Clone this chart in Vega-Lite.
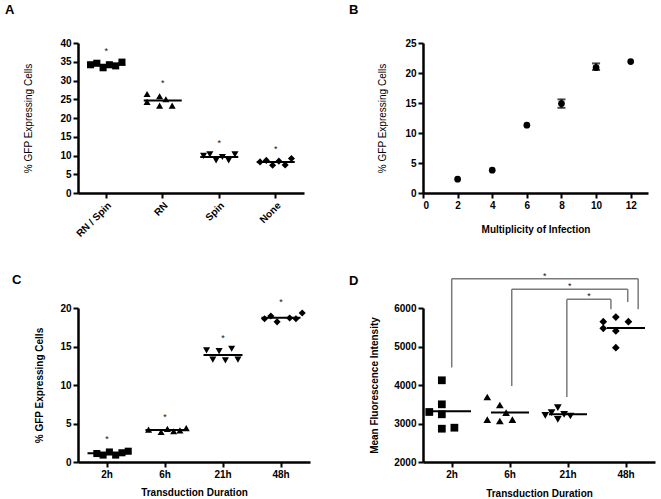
{
  "$schema": "https://vega.github.io/schema/vega-lite/v6.json",
  "background": "white",
  "padding": {"left": 5, "top": 3, "right": 5, "bottom": 5},
  "columns": 2,
  "bounds": "flush",
  "align": "each",
  "spacing": {"column": 113, "row": 115},
  "datasets": {
    "a": [
      {"g": "RN / Spin", "i": 2, "v": 34.2}, {"g": "RN / Spin", "i": 3, "v": 34.6}, {"g": "RN / Spin", "i": 4, "v": 33.4},
      {"g": "RN / Spin", "i": 5, "v": 34.2}, {"g": "RN / Spin", "i": 6, "v": 33.9}, {"g": "RN / Spin", "i": 7, "v": 34.9},
      {"g": "RN", "i": 2, "v": 26.4}, {"g": "RN", "i": 2, "v": 24.3}, {"g": "RN", "i": 4, "v": 25.8},
      {"g": "RN", "i": 4, "v": 23.3}, {"g": "RN", "i": 5, "v": 25.0}, {"g": "RN", "i": 6, "v": 23.3},
      {"g": "Spin", "i": 2, "v": 9.9}, {"g": "Spin", "i": 3, "v": 10.3}, {"g": "Spin", "i": 4, "v": 8.7},
      {"g": "Spin", "i": 5, "v": 9.6}, {"g": "Spin", "i": 6, "v": 8.7}, {"g": "Spin", "i": 7, "v": 10.3},
      {"g": "None", "i": 2, "v": 8.3}, {"g": "None", "i": 3, "v": 8.7}, {"g": "None", "i": 4, "v": 7.4},
      {"g": "None", "i": 5, "v": 8.5}, {"g": "None", "i": 6, "v": 7.5}, {"g": "None", "i": 7, "v": 9.2}
    ],
    "aStar": [
      {"g": "RN / Spin", "v": 38.3}, {"g": "RN", "v": 29.9}, {"g": "Spin", "v": 13.9}, {"g": "None", "v": 12.3}
    ],
    "b": [
      {"m": 2, "v": 2.3}, {"m": 4, "v": 3.8}, {"m": 6, "v": 11.3}, {"m": 8, "v": 14.9}, {"m": 10, "v": 20.9}, {"m": 12, "v": 21.9}
    ],
    "bErr": [
      {"m": 8, "lo": 14.2, "hi": 15.6}, {"m": 10, "lo": 20.5, "hi": 21.6}
    ],
    "c": [
      {"g": "2h", "i": 3, "v": 1.1}, {"g": "2h", "i": 4, "v": 0.9}, {"g": "2h", "i": 5, "v": 1.3},
      {"g": "2h", "i": 6, "v": 0.9}, {"g": "2h", "i": 7, "v": 1.2}, {"g": "2h", "i": 8, "v": 1.4},
      {"g": "6h", "i": 2, "v": 4.2}, {"g": "6h", "i": 4, "v": 3.9}, {"g": "6h", "i": 5, "v": 4.3},
      {"g": "6h", "i": 6, "v": 4.0}, {"g": "6h", "i": 7, "v": 4.1}, {"g": "6h", "i": 8, "v": 4.4},
      {"g": "21h", "i": 2, "v": 14.5}, {"g": "21h", "i": 3, "v": 13.3}, {"g": "21h", "i": 4, "v": 14.4},
      {"g": "21h", "i": 5, "v": 13.2}, {"g": "21h", "i": 6, "v": 14.7}, {"g": "21h", "i": 7, "v": 13.3},
      {"g": "48h", "i": 2, "v": 18.6}, {"g": "48h", "i": 3, "v": 18.95}, {"g": "48h", "i": 4, "v": 18.2},
      {"g": "48h", "i": 6, "v": 18.7}, {"g": "48h", "i": 7, "v": 18.6}, {"g": "48h", "i": 8, "v": 19.35}
    ],
    "cStar": [
      {"g": "2h", "v": 3.2}, {"g": "6h", "v": 6.1}, {"g": "21h", "v": 16.4}, {"g": "48h", "v": 21.0}
    ],
    "d": [
      {"g": "2h", "i": 3, "v": 4122}, {"g": "2h", "i": 3, "v": 3498}, {"g": "2h", "i": 1, "v": 3299},
      {"g": "2h", "i": 3, "v": 3239}, {"g": "2h", "i": 3, "v": 2865}, {"g": "2h", "i": 5, "v": 2891},
      {"g": "6h", "i": 1, "v": 3688}, {"g": "6h", "i": 3, "v": 3481}, {"g": "6h", "i": 4, "v": 3281},
      {"g": "6h", "i": 1, "v": 3099}, {"g": "6h", "i": 3, "v": 3065}, {"g": "6h", "i": 5, "v": 3099},
      {"g": "21h", "i": 3, "v": 3410}, {"g": "21h", "i": 2, "v": 3281}, {"g": "21h", "i": 1, "v": 3213},
      {"g": "21h", "i": 3, "v": 3109}, {"g": "21h", "i": 4, "v": 3239}, {"g": "21h", "i": 5, "v": 3195},
      {"g": "48h", "i": 1, "v": 5644}, {"g": "48h", "i": 3, "v": 5766}, {"g": "48h", "i": 5, "v": 5644},
      {"g": "48h", "i": 1, "v": 5472}, {"g": "48h", "i": 3, "v": 5403}, {"g": "48h", "i": 3, "v": 4970}
    ],
    "br": [
      {"xl": 0.495, "xr": 3.71, "xm": 2.10, "top": 6761, "yl": 4455, "yr": 5966},
      {"xl": 1.53, "xr": 3.53, "xm": 2.53, "top": 6486, "yl": 3974, "yr": 6156},
      {"xl": 2.48, "xr": 3.24, "xm": 2.86, "top": 6226, "yl": 3688, "yr": 5966}
    ]
  },
  "concat": [
    {
      "width": 226, "height": 150,
      "title": {"text": "A", "dx": -73, "offset": 21.5},
      "layer": [
        {
          "data": {"name": "a"},
          "mark": {"type": "point", "filled": true, "opacity": 1, "color": "black", "size": 50, "strokeWidth": 0},
          "encoding": {
            "x": {"field": "g", "type": "nominal", "sort": ["RN / Spin", "RN", "Spin", "None"],
                  "scale": {"type": "band", "paddingInner": 0, "paddingOuter": 0},
                  "axis": {"title": null, "labelAngle": -45, "labelAlign": "right", "labelBaseline": "top"}},
            "xOffset": {"field": "i", "type": "ordinal", "scale": {"type": "point", "domain": [1, 2, 3, 4, 5, 6, 7], "padding": 4}},
            "y": {"field": "v", "type": "quantitative", "scale": {"domain": [0, 40], "nice": false},
                  "axis": {"values": [0, 5, 10, 15, 20, 25, 30, 35, 40], "title": "% GFP Expressing Cells", "titleFontWeight": "normal", "titlePadding": 26}},
            "shape": {"field": "g", "type": "nominal",
                      "scale": {"domain": ["RN / Spin", "RN", "Spin", "None", "2h", "6h", "21h", "48h"],
                                "range": ["square", "triangle-up", "triangle-down", "diamond", "square", "triangle-up", "triangle-down", "diamond"]},
                      "legend": null}
          }
        },
        {
          "data": {"name": "a"},
          "mark": {"type": "tick", "orient": "horizontal", "color": "black", "size": 38, "thickness": 2},
          "encoding": {
            "x": {"field": "g", "type": "nominal", "sort": ["RN / Spin", "RN", "Spin", "None"], "bandPosition": 0.5,
                  "axis": {"title": null, "labelAngle": -45, "labelAlign": "right", "labelBaseline": "top"}},
            "y": {"aggregate": "mean", "field": "v", "type": "quantitative",
                  "axis": {"values": [0, 5, 10, 15, 20, 25, 30, 35, 40], "title": "% GFP Expressing Cells", "titleFontWeight": "normal", "titlePadding": 26}}
          }
        },
        {
          "data": {"name": "aStar"},
          "mark": {"type": "text", "text": "*", "fontSize": 9, "baseline": "alphabetic", "dy": 5, "color": "#111111"},
          "encoding": {
            "x": {"field": "g", "type": "nominal", "sort": ["RN / Spin", "RN", "Spin", "None"], "bandPosition": 0.5,
                  "axis": {"title": null, "labelAngle": -45, "labelAlign": "right", "labelBaseline": "top"}},
            "y": {"field": "v", "type": "quantitative",
                  "axis": {"values": [0, 5, 10, 15, 20, 25, 30, 35, 40], "title": "% GFP Expressing Cells", "titleFontWeight": "normal", "titlePadding": 26}}
          }
        }
      ]
    },
    {
      "width": 225, "height": 150,
      "title": {"text": "B", "dx": -74, "offset": 21.5},
      "layer": [
        {
          "data": {"name": "b"},
          "mark": {"type": "point", "filled": true, "opacity": 1, "color": "black", "size": 45, "shape": "circle", "strokeWidth": 0},
          "encoding": {
            "x": {"field": "m", "type": "quantitative", "scale": {"domain": [0, 13], "nice": false},
                  "axis": {"values": [0, 2, 4, 6, 8, 10, 12], "title": "Multiplicity of Infection", "titleFontWeight": "bold", "titlePadding": 14}},
            "y": {"field": "v", "type": "quantitative", "scale": {"domain": [0, 25], "nice": false},
                  "axis": {"values": [0, 5, 10, 15, 20, 25], "title": "% GFP Expressing Cells", "titleFontWeight": "normal", "titlePadding": 17}}
          }
        },
        {
          "data": {"name": "bErr"},
          "mark": {"type": "rule", "color": "black", "strokeWidth": 2},
          "encoding": {
            "x": {"field": "m", "type": "quantitative",
                  "axis": {"values": [0, 2, 4, 6, 8, 10, 12], "title": "Multiplicity of Infection", "titleFontWeight": "bold", "titlePadding": 14}},
            "y": {"field": "lo", "type": "quantitative",
                  "axis": {"values": [0, 5, 10, 15, 20, 25], "title": "% GFP Expressing Cells", "titleFontWeight": "normal", "titlePadding": 17}},
            "y2": {"field": "hi"}
          }
        },
        {
          "data": {"name": "bErr"},
          "mark": {"type": "tick", "orient": "horizontal", "color": "black", "size": 8, "thickness": 2},
          "encoding": {
            "x": {"field": "m", "type": "quantitative",
                  "axis": {"values": [0, 2, 4, 6, 8, 10, 12], "title": "Multiplicity of Infection", "titleFontWeight": "bold", "titlePadding": 14}},
            "y": {"field": "lo", "type": "quantitative",
                  "axis": {"values": [0, 5, 10, 15, 20, 25], "title": "% GFP Expressing Cells", "titleFontWeight": "normal", "titlePadding": 17}}
          }
        },
        {
          "data": {"name": "bErr"},
          "mark": {"type": "tick", "orient": "horizontal", "color": "black", "size": 8, "thickness": 2},
          "encoding": {
            "x": {"field": "m", "type": "quantitative",
                  "axis": {"values": [0, 2, 4, 6, 8, 10, 12], "title": "Multiplicity of Infection", "titleFontWeight": "bold", "titlePadding": 14}},
            "y": {"field": "hi", "type": "quantitative",
                  "axis": {"values": [0, 5, 10, 15, 20, 25], "title": "% GFP Expressing Cells", "titleFontWeight": "normal", "titlePadding": 17}}
          }
        }
      ]
    },
    {
      "width": 232, "height": 154,
      "title": {"text": "C", "dx": -66, "offset": 19, "dy": 8},
      "layer": [
        {
          "data": {"name": "c"},
          "mark": {"type": "point", "filled": true, "opacity": 1, "color": "black", "size": 50, "strokeWidth": 0},
          "encoding": {
            "x": {"field": "g", "type": "nominal", "sort": ["2h", "6h", "21h", "48h"],
                  "scale": {"type": "band", "paddingInner": 0, "paddingOuter": 0},
                  "axis": {"title": "Transduction Duration", "labelAngle": 0, "titleFontWeight": "bold", "titlePadding": 8}},
            "xOffset": {"field": "i", "type": "ordinal", "scale": {"type": "point", "domain": [1, 2, 3, 4, 5, 6, 7, 8], "padding": 2.3}},
            "y": {"field": "v", "type": "quantitative", "scale": {"domain": [0, 20], "nice": false},
                  "axis": {"values": [0, 5, 10, 15, 20], "title": "% GFP Expressing Cells", "titleFontWeight": "bold", "titlePadding": 15}},
            "shape": {"field": "g", "type": "nominal",
                      "scale": {"domain": ["RN / Spin", "RN", "Spin", "None", "2h", "6h", "21h", "48h"],
                                "range": ["square", "triangle-up", "triangle-down", "diamond", "square", "triangle-up", "triangle-down", "diamond"]},
                      "legend": null}
          }
        },
        {
          "data": {"name": "c"},
          "mark": {"type": "tick", "orient": "horizontal", "color": "black", "size": 39, "thickness": 2},
          "encoding": {
            "x": {"field": "g", "type": "nominal", "sort": ["2h", "6h", "21h", "48h"], "bandPosition": 0.5,
                  "axis": {"title": "Transduction Duration", "labelAngle": 0, "titleFontWeight": "bold", "titlePadding": 8}},
            "y": {"aggregate": "mean", "field": "v", "type": "quantitative",
                  "axis": {"values": [0, 5, 10, 15, 20], "title": "% GFP Expressing Cells", "titleFontWeight": "bold", "titlePadding": 15}}
          }
        },
        {
          "data": {"name": "cStar"},
          "mark": {"type": "text", "text": "*", "fontSize": 9, "baseline": "alphabetic", "dy": 5, "color": "#111111"},
          "encoding": {
            "x": {"field": "g", "type": "nominal", "sort": ["2h", "6h", "21h", "48h"], "bandPosition": 0.5,
                  "axis": {"title": "Transduction Duration", "labelAngle": 0, "titleFontWeight": "bold", "titlePadding": 8}},
            "y": {"field": "v", "type": "quantitative",
                  "axis": {"values": [0, 5, 10, 15, 20], "title": "% GFP Expressing Cells", "titleFontWeight": "bold", "titlePadding": 15}}
          }
        }
      ]
    },
    {
      "width": 232, "height": 154,
      "title": {"text": "D", "dx": -74, "offset": 19, "dy": 35},
      "resolve": {"scale": {"x": "independent"}, "axis": {"x": "independent"}},
      "layer": [
        {
          "layer": [
            {
              "data": {"name": "d"},
              "mark": {"type": "point", "filled": true, "opacity": 1, "color": "black", "size": 60, "strokeWidth": 0},
              "encoding": {
                "x": {"field": "g", "type": "nominal", "sort": ["2h", "6h", "21h", "48h"],
                      "scale": {"type": "band", "paddingInner": 0, "paddingOuter": 0},
                      "axis": {"title": "Transduction Duration", "labelAngle": 0, "titleFontWeight": "bold", "titlePadding": 9}},
                "xOffset": {"field": "i", "type": "ordinal", "scale": {"type": "point", "domain": [1, 2, 3, 4, 5], "padding": 4.1}},
                "y": {"field": "v", "type": "quantitative", "scale": {"domain": [2000, 6000], "nice": false, "zero": false},
                      "axis": {"values": [2000, 3000, 4000, 5000, 6000], "format": "d", "title": "Mean Fluorescence Intensity", "titleFontWeight": "bold", "titlePadding": 14}},
                "shape": {"field": "g", "type": "nominal",
                          "scale": {"domain": ["RN / Spin", "RN", "Spin", "None", "2h", "6h", "21h", "48h"],
                                    "range": ["square", "triangle-up", "triangle-down", "diamond", "square", "triangle-up", "triangle-down", "diamond"]},
                          "legend": null}
              }
            },
            {
              "data": {"name": "d"},
              "mark": {"type": "tick", "orient": "horizontal", "color": "black", "size": 38, "thickness": 2},
              "encoding": {
                "x": {"field": "g", "type": "nominal", "sort": ["2h", "6h", "21h", "48h"], "bandPosition": 0.5,
                      "axis": {"title": "Transduction Duration", "labelAngle": 0, "titleFontWeight": "bold", "titlePadding": 9}},
                "y": {"aggregate": "mean", "field": "v", "type": "quantitative",
                      "axis": {"values": [2000, 3000, 4000, 5000, 6000], "format": "d", "title": "Mean Fluorescence Intensity", "titleFontWeight": "bold", "titlePadding": 14}}
              }
            }
          ]
        },
        {
          "data": {"name": "br"},
          "layer": [
            {
              "mark": {"type": "rule", "color": "#7a7a7a", "strokeWidth": 1.5},
              "encoding": {
                "x": {"field": "xl", "type": "quantitative", "scale": {"domain": [0, 4], "nice": false, "zero": false}, "axis": null},
                "x2": {"field": "xr"},
                "y": {"field": "top", "type": "quantitative",
                      "axis": {"values": [2000, 3000, 4000, 5000, 6000], "format": "d", "title": "Mean Fluorescence Intensity", "titleFontWeight": "bold", "titlePadding": 14}}
              }
            },
            {
              "mark": {"type": "rule", "color": "#7a7a7a", "strokeWidth": 1.5},
              "encoding": {
                "x": {"field": "xl", "type": "quantitative", "axis": null},
                "y": {"field": "yl", "type": "quantitative",
                      "axis": {"values": [2000, 3000, 4000, 5000, 6000], "format": "d", "title": "Mean Fluorescence Intensity", "titleFontWeight": "bold", "titlePadding": 14}},
                "y2": {"field": "top"}
              }
            },
            {
              "mark": {"type": "rule", "color": "#7a7a7a", "strokeWidth": 1.5},
              "encoding": {
                "x": {"field": "xr", "type": "quantitative", "axis": null},
                "y": {"field": "yr", "type": "quantitative",
                      "axis": {"values": [2000, 3000, 4000, 5000, 6000], "format": "d", "title": "Mean Fluorescence Intensity", "titleFontWeight": "bold", "titlePadding": 14}},
                "y2": {"field": "top"}
              }
            },
            {
              "mark": {"type": "text", "text": "*", "fontSize": 9, "baseline": "alphabetic", "dy": 0, "color": "#111111"},
              "encoding": {
                "x": {"field": "xm", "type": "quantitative", "axis": null},
                "y": {"field": "top", "type": "quantitative",
                      "axis": {"values": [2000, 3000, 4000, 5000, 6000], "format": "d", "title": "Mean Fluorescence Intensity", "titleFontWeight": "bold", "titlePadding": 14}}
              }
            }
          ]
        }
      ]
    }
  ],
  "config": {
    "font": "Liberation Sans",
    "view": {"stroke": null},
    "title": {"fontSize": 13, "fontWeight": "bold", "font": "Liberation Sans", "anchor": "start", "frame": "group", "baseline": "alphabetic", "color": "black"},
    "axis": {
      "grid": false,
      "labelOverlap": false,
      "domainColor": "black", "domainWidth": 2.5,
      "tickColor": "black", "tickWidth": 2, "tickSize": 5,
      "labelFont": "Liberation Sans", "labelFontWeight": "bold", "labelFontSize": 10, "labelColor": "black", "labelPadding": 2,
      "titleFont": "Liberation Sans", "titleFontSize": 10, "titleColor": "black"
    }
  }
}
